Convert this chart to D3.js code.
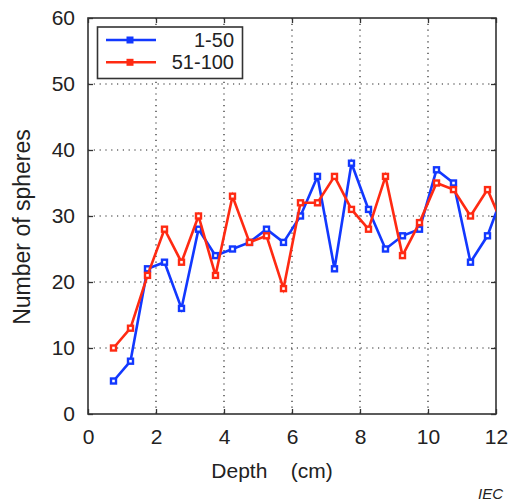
<!DOCTYPE html>
<html>
<head>
<meta charset="utf-8">
<script src="https://cdn.jsdelivr.net/npm/d3@7"></script>
<style>
  html, body { margin: 0; padding: 0; background: #fff; }
  svg { display: block; font-family: "Liberation Sans", Arial, sans-serif; }
</style>
</head>
<body>
<svg id="chart" width="511" height="502"></svg>
<script>
// Sphere counts per depth slice, two sample groups
const depths = [0.75, 1.25, 1.75, 2.25, 2.75, 3.25, 3.75, 4.25, 4.75, 5.25, 5.75, 6.25,
                6.75, 7.25, 7.75, 8.25, 8.75, 9.25, 9.75, 10.25, 10.75, 11.25, 11.75, 12.25];
const group1to50 = [5, 8, 22, 23, 16, 28, 24, 25, 26, 28, 26, 30,
                    36, 22, 38, 31, 25, 27, 28, 37, 35, 23, 27, 34];
const group51to100 = [10, 13, 21, 28, 23, 30, 21, 33, 26, 27, 19, 32,
                      32, 36, 31, 28, 36, 24, 29, 35, 34, 30, 34, 28];
const seriesNames = ["1-50", "51-100"];
const seriesColors = ["#1238ff", "#ff2a12"];
const xTicks = [0, 2, 4, 6, 8, 10, 12];
const yTicks = [0, 10, 20, 30, 40, 50, 60];

const svg = d3.select("#chart");
const plot = { left: 88, right: 496, top: 18, bottom: 414 };

const x = d3.scaleLinear().domain([0, 12]).range([plot.left, plot.right]);
const y = d3.scaleLinear().domain([0, 60]).range([plot.bottom, plot.top]);

const axisColor = "#333";

// dotted grid
const grid = svg.append("g").attr("stroke", "#222").attr("stroke-width", 1.2)
  .attr("stroke-dasharray", "1.2,4.6");
grid.selectAll("line.gx").data(xTicks.slice(1, -1)).join("line")
  .attr("x1", d => x(d)).attr("x2", d => x(d))
  .attr("y1", plot.top).attr("y2", plot.bottom);
grid.selectAll("line.gy").data(yTicks.slice(1, -1)).join("line")
  .attr("x1", plot.left).attr("x2", plot.right)
  .attr("y1", d => y(d)).attr("y2", d => y(d));

// axes with inward ticks
const tickLen = 5;
const xAxisB = d3.axisBottom(x).tickValues(xTicks).tickSizeInner(-tickLen).tickSizeOuter(0).tickPadding(15);
const xAxisT = d3.axisTop(x).tickValues(xTicks).tickSizeInner(-tickLen).tickSizeOuter(0).tickFormat("");
const yAxisL = d3.axisLeft(y).tickValues(yTicks).tickSizeInner(-tickLen).tickSizeOuter(0).tickPadding(13);
const yAxisR = d3.axisRight(y).tickValues(yTicks).tickSizeInner(-tickLen).tickSizeOuter(0).tickFormat("");

function styleAxis(g) {
  g.select(".domain").remove();
  g.selectAll(".tick line").attr("stroke", axisColor).attr("stroke-width", 1.3);
  g.selectAll(".tick text").attr("fill", "#222").style("font-size", "21px")
    .style("font-family", "'Liberation Sans', Arial, sans-serif");
}
svg.append("g").attr("transform", `translate(0,${plot.bottom})`).call(xAxisB).call(styleAxis);
svg.append("g").attr("transform", `translate(0,${plot.top})`).call(xAxisT).call(styleAxis);
svg.append("g").attr("transform", `translate(${plot.left},0)`).call(yAxisL).call(styleAxis);
svg.append("g").attr("transform", `translate(${plot.right},0)`).call(yAxisR).call(styleAxis);

// frame
svg.append("rect")
  .attr("x", plot.left).attr("y", plot.top)
  .attr("width", plot.right - plot.left).attr("height", plot.bottom - plot.top)
  .attr("fill", "none").attr("stroke", axisColor).attr("stroke-width", 1.6);

// data lines, clipped to the plotting area
svg.append("clipPath").attr("id", "plotClip").append("rect")
  .attr("x", plot.left).attr("y", plot.top)
  .attr("width", plot.right - plot.left).attr("height", plot.bottom - plot.top);

const series = [group1to50, group51to100];
const line = d3.line().x((d, i) => x(depths[i])).y(d => y(d));
const dataG = svg.append("g").attr("clip-path", "url(#plotClip)");
const markerSize = 5;
series.forEach((vals, s) => {
  const g = dataG.append("g");
  g.append("path").datum(vals)
    .attr("d", line).attr("fill", "none")
    .attr("stroke", seriesColors[s]).attr("stroke-width", 2.6)
    .attr("stroke-linejoin", "miter");
  g.selectAll("rect").data(vals).join("rect")
    .attr("x", (d, i) => x(depths[i]) - markerSize / 2)
    .attr("y", d => y(d) - markerSize / 2)
    .attr("width", markerSize).attr("height", markerSize)
    .attr("fill", "#fff").attr("stroke", seriesColors[s]).attr("stroke-width", 2.4);
});

// legend
const leg = svg.append("g");
leg.append("rect").attr("x", 97.5).attr("y", 27).attr("width", 145).attr("height", 51.5)
  .attr("fill", "#fff").attr("stroke", axisColor).attr("stroke-width", 1.6);
seriesNames.forEach((name, s) => {
  const ly = 40 + s * 22.3;
  leg.append("line").attr("x1", 106).attr("x2", 156).attr("y1", ly).attr("y2", ly)
    .attr("stroke", seriesColors[s]).attr("stroke-width", 2.6);
  leg.append("rect").attr("x", 130 - 3.5).attr("y", ly - 3.5).attr("width", 7).attr("height", 7)
    .attr("fill", seriesColors[s]);
  leg.append("text").attr("x", 234).attr("y", ly + 7)
    .attr("text-anchor", "end").attr("fill", "#222").style("font-size", "20px")
    .text(name);
});

// axis titles
svg.append("text").attr("x", 272).attr("y", 478)
  .attr("text-anchor", "middle").attr("fill", "#222").style("font-size", "21px")
  .style("white-space", "pre").text("Depth    (cm)");
svg.append("text").attr("transform", "translate(30,227) rotate(-90)")
  .attr("text-anchor", "middle").attr("fill", "#222").style("font-size", "23px")
  .text("Number of spheres");

// source mark
svg.append("text").attr("x", 503).attr("y", 499)
  .attr("text-anchor", "end").attr("fill", "#222").style("font-size", "15px")
  .style("font-style", "italic").text("IEC");
</script>
</body>
</html>
